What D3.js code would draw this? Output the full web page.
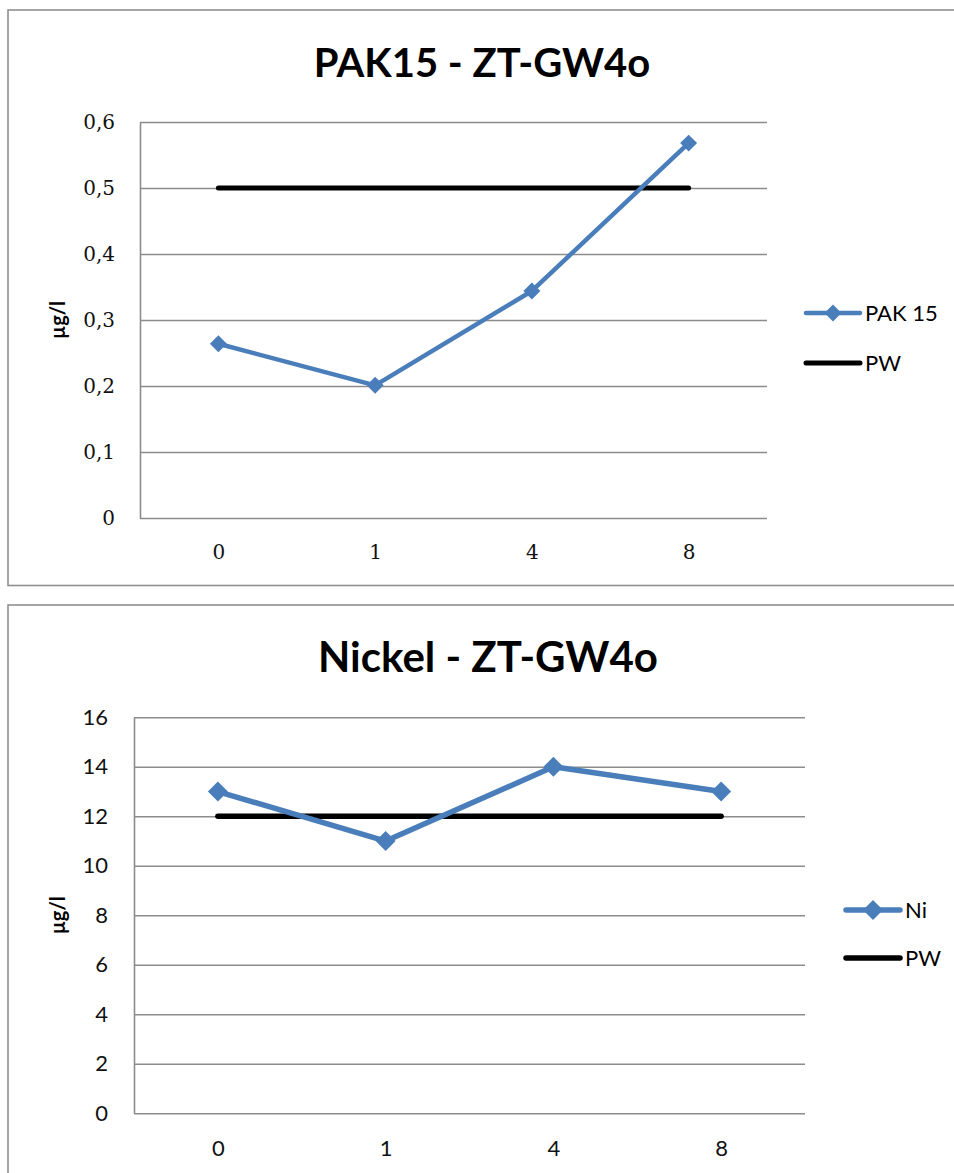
<!DOCTYPE html>
<html>
<head>
<meta charset="utf-8">
<script src="https://cdn.jsdelivr.net/npm/d3@7"></script>
<style>
  body { margin: 0; background: #fff; }
  svg { display: block; }
</style>
</head>
<body>
<svg id="chart"></svg>
<script>
const WIDTH = 954;
const HEIGHT = 1173;
const BLUE = "#4a7ebb";
const GRID = "#8c8c8c";

// data
const categories = ["0", "1", "4", "8"];
const pakValues = [0.264, 0.201, 0.344, 0.568];
const pakPW = [0.5, 0.5, 0.5, 0.5];
const pakTicks = [0, 0.1, 0.2, 0.3, 0.4, 0.5, 0.6];
const niValues = [13, 11, 14, 13];
const niPW = [12, 12, 12, 12];
const niTicks = [0, 2, 4, 6, 8, 10, 12, 14, 16];

const deFormat = d3.formatLocale({ decimal: ",", thousands: ".", grouping: [3], currency: ["", " €"] }).format("~g");

const svg = d3.select("#chart").attr("width", WIDTH).attr("height", HEIGHT);

function drawChart(cfg) {
   const g = svg.append("g");

   // outer frame, runs past the right edge like the screenshot
   g.append("rect")
      .attr("x", cfg.frame[0]).attr("y", cfg.frame[1])
      .attr("width", cfg.frame[2]).attr("height", cfg.frame[3])
      .attr("fill", "#fff")
      .attr("stroke", "#8f8f8f")
      .attr("stroke-width", 1.6);

   const x = d3.scalePoint()
      .domain(categories)
      .range([cfg.plot.left, cfg.plot.right])
      .padding(0.5);
   const y = d3.scaleLinear()
      .domain([0, d3.max(cfg.ticks)])
      .range([cfg.plot.bottom, cfg.plot.top]);

   // y axis with gridlines
   const yAxis = g.append("g")
      .attr("transform", `translate(${cfg.plot.left},0)`)
      .call(d3.axisLeft(y)
         .tickValues(cfg.ticks)
         .tickFormat(cfg.tickFormat)
         .tickSize(-(cfg.plot.right - cfg.plot.left))
         .tickSizeOuter(0)
         .tickPadding(cfg.yPad));
   yAxis.selectAll("path.domain").attr("stroke", GRID).attr("stroke-width", 1.6);
   yAxis.selectAll(".tick line").attr("stroke", GRID).attr("stroke-width", 1.5);
   yAxis.selectAll(".tick text")
      .attr("font-family", cfg.tickFont)
      .attr("font-size", cfg.tickSize)
      .attr("fill", "#111");

   // x axis labels only
   const xAxis = g.append("g")
      .attr("transform", `translate(0,${cfg.plot.bottom})`)
      .call(d3.axisBottom(x).tickSize(0).tickPadding(cfg.xPad));
   xAxis.select("path.domain").remove();
   xAxis.selectAll(".tick text")
      .attr("font-family", cfg.tickFont)
      .attr("font-size", cfg.tickSize)
      .attr("fill", "#111");

   const line = d3.line()
      .x((_, i) => x(categories[i]))
      .y(d => y(d));

   // PW threshold
   g.append("path")
      .datum(cfg.pw)
      .attr("d", line)
      .attr("fill", "none")
      .attr("stroke", "#000")
      .attr("stroke-width", cfg.pwWidth)
      .attr("stroke-linecap", "round");

   // measured series
   g.append("path")
      .datum(cfg.values)
      .attr("d", line)
      .attr("fill", "none")
      .attr("stroke", BLUE)
      .attr("stroke-width", cfg.lineWidth)
      .attr("stroke-linejoin", "round");

   const marker = d3.symbol(d3.symbolSquare, cfg.markerArea);
   g.selectAll("path.marker")
      .data(cfg.values)
      .enter()
      .append("path")
      .attr("class", "marker")
      .attr("d", marker)
      .attr("fill", BLUE)
      .attr("transform", (d, i) => `translate(${x(categories[i])},${y(d)}) rotate(45)`);

   // title
   g.append("text")
      .text(cfg.title)
      .attr("x", cfg.titlePos[0]).attr("y", cfg.titlePos[1])
      .attr("text-anchor", "middle")
      .attr("font-family", "Lato, 'Open Sans', sans-serif")
      .attr("font-weight", 700)
      .attr("font-size", cfg.titleSize)
      .attr("fill", "#000");

   // unit label
   g.append("text")
      .text("µg/l")
      .attr("transform", `translate(${cfg.unitX},${(cfg.plot.top + cfg.plot.bottom) / 2}) rotate(-90)`)
      .attr("text-anchor", "middle")
      .attr("dy", "0.35em")
      .attr("font-family", "Lato, 'Open Sans', sans-serif")
      .attr("font-weight", 700)
      .attr("font-size", 20)
      .attr("fill", "#000");

   // legend
   const legend = g.append("g").attr("transform", `translate(${cfg.legend[0]},${cfg.legend[1]})`);
   const seriesItem = legend.append("g");
   seriesItem.append("line")
      .attr("x1", 0).attr("x2", 54)
      .attr("stroke", BLUE).attr("stroke-width", cfg.lineWidth).attr("stroke-linecap", "round");
   seriesItem.append("path")
      .attr("d", marker)
      .attr("fill", BLUE)
      .attr("transform", "translate(27,0) rotate(45)");
   seriesItem.append("text")
      .text(cfg.seriesName)
      .attr("x", 59).attr("dy", "0.36em")
      .attr("font-family", "Lato, 'Open Sans', sans-serif")
      .attr("font-size", 22)
      .attr("fill", "#000");

   const pwItem = legend.append("g").attr("transform", `translate(0,${cfg.legendGap})`);
   pwItem.append("line")
      .attr("x1", 0).attr("x2", 54)
      .attr("stroke", "#000").attr("stroke-width", cfg.pwWidth).attr("stroke-linecap", "round");
   pwItem.append("text")
      .text("PW")
      .attr("x", 59).attr("dy", "0.36em")
      .attr("font-family", "Lato, 'Open Sans', sans-serif")
      .attr("font-size", 22)
      .attr("fill", "#000");
}

drawChart({
   frame: [8, 10, 960, 575.5],
   plot: { left: 140, right: 767, top: 122, bottom: 518 },
   ticks: pakTicks,
   tickFormat: deFormat,
   tickFont: "'DejaVu Serif', serif",
   tickSize: 20,
   yPad: 25,
   xPad: 27,
   values: pakValues,
   pw: pakPW,
   lineWidth: 4.5,
   pwWidth: 5,
   markerArea: 144,
   title: "PAK15 - ZT-GW4o",
   titlePos: [482, 77],
   titleSize: 40,
   unitX: 58,
   legend: [806, 313],
   legendGap: 50,
   seriesName: "PAK 15"
});

drawChart({
   frame: [8, 605, 960, 600],
   plot: { left: 134, right: 805, top: 717.3, bottom: 1113.3 },
   ticks: niTicks,
   tickFormat: d3.format("d"),
   tickFont: "Lato, 'Open Sans', sans-serif",
   tickSize: 22,
   yPad: 26,
   xPad: 27,
   values: niValues,
   pw: niPW,
   lineWidth: 5.5,
   pwWidth: 5.5,
   markerArea: 200,
   title: "Nickel - ZT-GW4o",
   titlePos: [488, 672],
   titleSize: 42,
   unitX: 58,
   legend: [846, 910],
   legendGap: 48,
   seriesName: "Ni"
});
</script>
</body>
</html>
